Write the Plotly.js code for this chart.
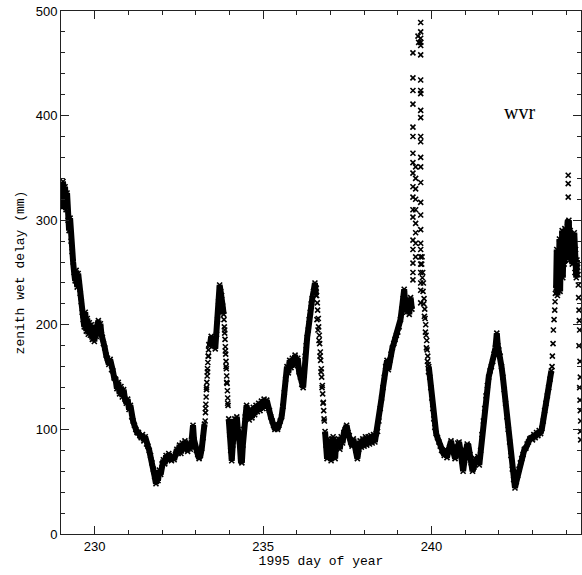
<!DOCTYPE html>
<html>
<head>
<meta charset="utf-8">
<script src="https://cdn.plot.ly/plotly-3.0.1.min.js"></script>
<style>html,body{margin:0;padding:0;background:#fff;}#chart{width:582px;height:575px;}</style>
</head>
<body>
<div id="chart"></div>
<script>
// Dense WVR band (day of year 1995, zenith wet delay mm)
const bandDay = [
229.00,229.03,229.06,229.09,229.12,229.15,229.18,229.21,229.24,229.27,229.30,229.33,229.36,229.39,229.42,229.45,229.48,229.51,229.54,229.57,
229.60,229.63,229.66,229.69,229.72,229.75,229.78,229.81,229.84,229.87,229.90,229.93,229.96,229.99,230.02,230.05,230.08,230.11,230.14,230.17,
230.20,230.23,230.26,230.30,230.34,230.38,230.42,230.46,230.50,230.54,230.58,230.62,230.66,230.70,230.74,230.78,230.82,230.86,230.90,230.94,
230.98,231.02,231.06,231.10,231.14,231.18,231.22,231.26,231.30,231.34,231.38,231.42,231.46,231.50,231.54,231.58,231.62,231.66,231.70,231.74,
231.78,231.82,231.85,231.88,231.92,231.96,232.00,232.04,232.08,232.12,232.16,232.20,232.24,232.28,232.32,232.36,232.40,232.44,232.48,232.52,
232.56,232.60,232.64,232.68,232.72,232.76,232.80,232.84,232.88,232.92,232.95,232.98,233.02,233.06,233.10,233.14,233.18,233.22,233.26,233.29,
233.32,233.35,233.38,233.42,233.46,233.50,233.54,233.58,233.62,233.65,233.68,233.71,233.74,233.77,233.80,233.83,233.86,233.88,233.90,233.92,
233.95,233.98,234.01,234.04,234.07,234.10,234.13,234.16,234.19,234.22,234.25,234.28,234.31,234.34,234.37,234.40,234.43,234.47,234.51,234.55,
234.59,234.63,234.67,234.71,234.75,234.79,234.83,234.87,234.91,234.95,234.99,235.03,235.07,235.11,235.15,235.19,235.23,235.27,235.31,235.35,
235.39,235.43,235.47,235.51,235.55,235.59,235.63,235.67,235.71,235.75,235.79,235.83,235.87,235.91,235.95,235.99,236.03,236.07,236.11,236.15,
236.19,236.22,236.25,236.28,236.31,236.34,236.37,236.40,236.43,236.46,236.50,236.54,236.57,236.60,236.63,236.66,236.69,236.72,236.75,236.78,
236.81,236.84,236.87,236.90,236.93,236.96,236.99,237.02,237.05,237.08,237.11,237.14,237.17,237.20,237.24,237.28,237.32,237.36,237.40,237.44,
237.48,237.52,237.56,237.60,237.64,237.68,237.72,237.76,237.80,237.84,237.88,237.92,237.96,238.00,238.04,238.08,238.12,238.16,238.20,238.24,
238.28,238.32,238.36,238.40,238.44,238.48,238.52,238.56,238.60,238.64,238.68,238.72,238.76,238.80,238.84,238.88,238.92,238.96,239.00,239.04,
239.08,239.12,239.16,239.19,239.22,239.26,239.30,239.34,239.38,239.42,
239.72,239.74,239.76,239.78,239.80,239.83,239.86,239.89,239.92,239.95,239.98,240.01,240.04,240.07,240.10,240.14,240.18,240.22,240.26,240.30,
240.34,240.38,240.42,240.46,240.50,240.54,240.58,240.62,240.66,240.70,240.74,240.78,240.82,240.86,240.90,240.94,240.98,241.02,241.06,241.10,
241.14,241.18,241.22,241.26,241.30,241.34,241.38,241.42,241.46,241.50,241.54,241.58,241.62,241.66,241.70,241.74,241.78,241.82,241.86,241.90,
241.94,241.97,242.00,242.04,242.08,242.12,242.16,242.20,242.24,242.28,242.32,242.36,242.40,242.44,242.48,242.52,242.56,242.60,242.64,242.68,
242.72,242.76,242.80,242.84,242.88,242.92,242.96,243.00,243.04,243.08,243.12,243.16,243.20,243.24,243.28,243.32,243.36,243.40,243.44,243.48,
243.52,243.56,243.70,243.72,243.74,243.76,243.78,243.80,243.82,243.84,243.86,243.88,243.90,243.92,243.94,243.96,243.98,244.00,244.02,244.04,
244.06,244.08,244.10,244.12,244.14,244.16,244.18,244.20,244.22,244.24,244.26,244.28,244.30,244.32
];
const bandZwd = [
330,312,337,316,332,310,326,300,290,302,280,270,260,250,242,252,236,249,240,230,
222,212,205,198,212,194,206,191,202,190,200,186,197,184,195,189,200,204,194,201,
191,188,182,178,171,168,162,167,157,156,149,148,139,145,134,141,131,138,129,125,
129,119,123,112,108,104,100,97,97,94,92,95,89,93,86,84,80,75,68,62,
55,48,56,51,61,57,67,71,67,75,71,77,72,70,75,71,76,81,77,85,
77,87,81,89,82,79,87,81,90,104,90,84,80,76,72,75,82,92,105,120,
140,155,170,180,189,181,187,177,191,205,222,238,232,228,218,210,195,175,160,145,
125,110,95,80,70,85,100,110,105,112,100,95,85,70,68,85,100,112,123,114,
109,119,111,121,114,123,117,125,118,127,120,129,123,128,120,118,112,108,104,100,
102,100,104,108,112,122,135,148,160,154,166,159,168,161,171,164,168,155,150,143,
140,152,170,180,188,195,205,212,220,225,232,240,228,205,195,185,170,155,140,125,
110,98,85,72,91,76,89,70,86,93,78,72,89,83,91,81,93,87,97,100,
104,97,94,88,84,91,85,80,72,81,89,83,91,84,93,85,93,86,94,87,
95,88,96,98,108,120,130,140,150,160,166,157,166,172,178,182,186,190,193,198,
205,215,225,234,220,212,224,210,226,215,
265,250,240,225,215,200,185,170,160,150,140,130,120,110,102,96,92,88,84,80,
79,75,81,73,79,83,89,83,78,72,79,87,88,80,70,60,70,80,86,84,
76,68,60,64,72,68,74,66,80,95,108,120,132,142,150,156,160,165,172,178,
192,180,176,170,160,150,138,125,112,100,88,75,62,52,44,50,56,62,68,72,
76,81,82,86,88,91,92,90,95,92,97,94,99,96,101,108,118,125,132,140,
148,156,235,272,228,262,240,282,232,270,250,290,245,275,258,292,262,285,268,298,
275,300,262,290,270,282,258,280,262,288,250,272,245,262
];
// Stretches where the record is sparse (samples drawn as separate crosses only)
const sparseSpans = [[233.27,233.40],[233.84,233.97],[236.58,236.82],[239.43,239.90],[243.57,243.69]];
// Sparse samples (rapid changes)
const sparseDay = [
233.28,233.29,233.30,233.31,233.32,233.33,233.34,233.35,233.36,233.37,233.38,233.39,
233.84,233.85,233.86,233.87,233.88,233.89,233.90,233.91,233.92,233.93,233.94,233.95,233.96,
236.58,236.59,236.61,236.62,236.64,236.65,236.67,236.68,236.70,236.71,236.73,236.74,236.76,236.77,236.79,236.80,236.82,
239.45,239.45,239.45,239.45,239.45,239.45,239.45,239.45,239.45,239.45,239.45,239.45,239.45,239.45,239.45,239.45,239.45,239.45,
239.53,239.53,239.53,239.53,239.53,239.53,239.53,239.53,239.53,239.60,239.62,
239.68,239.68,239.68,239.68,239.68,239.68,239.68,239.68,239.68,239.68,239.68,239.68,239.68,239.68,239.68,239.68,239.68,239.68,239.68,239.68,239.68,239.68,239.68,239.68,239.68,239.68,239.68,
239.71,239.73,239.75,239.77,239.79,239.81,239.82,239.84,239.85,239.87,239.88,239.90,239.91,
243.58,243.59,243.61,243.62,243.64,243.66,243.67,243.68,
244.06,244.06,244.06,
244.34,244.35,244.36,244.37,244.38,244.39,244.40,244.38,244.41,244.42,244.40,244.41,244.42,244.43,244.42,244.43
];
const sparseZwd = [
108,116,124,131,138,145,151,158,164,170,176,181,
205,198,192,186,179,172,165,158,151,144,137,130,123,
235,228,221,214,206,198,190,182,174,166,158,150,142,134,126,118,108,
460,436,424,411,389,380,364,355,345,332,322,310,303,281,272,259,250,243,
351,340,330,320,310,297,288,278,265,476,470,
489,480,474,470,467,458,434,424,421,405,398,380,375,360,351,336,317,305,291,278,272,265,258,250,240,233,221,
258,245,232,220,208,206,193,190,178,176,165,162,155,
160,170,182,195,205,214,222,230,
343,335,322,
255,248,238,226,214,204,195,180,165,150,140,128,118,108,98,90
];
const xTickVals = [230,235,240];
const yTickVals = [0,100,200,300,400,500];
const label = "wvr";

// continuous band: break the line across sparse spans
const lineX = [], lineY = [];
let prev = null;
for (let i = 0; i < bandDay.length; i++) {
  const d = bandDay[i];
  if (sparseSpans.some(s => d > s[0] && d < s[1])) { prev = null; if (lineY.length && lineY[lineY.length-1] !== null) { lineX.push(d); lineY.push(null); } continue; }
  if (prev !== null && sparseSpans.some(s => s[0] > prev && s[1] < d)) { lineX.push(d); lineY.push(null); }
  lineX.push(d); lineY.push(bandZwd[i]); prev = d;
}

const mk = {symbol:'x-thin-open', size:5, color:'#000', line:{width:1.6, color:'#000'}};
const data = [
  {x:lineX, y:lineY, type:'scatter', mode:'lines', line:{color:'#000', width:6}, connectgaps:false, hoverinfo:'skip'},
  {x:bandDay, y:bandZwd, type:'scatter', mode:'markers', marker:mk, hoverinfo:'skip'},
  {x:sparseDay, y:sparseZwd, type:'scatter', mode:'markers', marker:mk, hoverinfo:'skip'}
];
const axisCommon = {
  showline:true, linecolor:'#222', linewidth:1, mirror:'allticks',
  ticks:'inside', ticklen:8, tickwidth:1, tickcolor:'#222',
  showgrid:false, zeroline:false,
  tickfont:{family:'Liberation Sans, Arial, sans-serif', size:13, color:'#000'}
};
const layout = {
  width:582, height:575,
  margin:{l:61, r:1, t:11, b:41},
  paper_bgcolor:'#fff', plot_bgcolor:'#fff',
  showlegend:false,
  xaxis: Object.assign({}, axisCommon, {
    range:[229, 244.44], tickvals:xTickVals, ticktext:xTickVals.map(String),
    minor:{dtick:1, tick0:229, ticks:'inside', ticklen:4, tickcolor:'#222'},
    title:{text:'1995 day of year', standoff:3, font:{family:'Liberation Mono, Courier New, monospace', size:13, color:'#000'}}
  }),
  yaxis: Object.assign({}, axisCommon, {
    range:[0, 500], tickvals:yTickVals, ticktext:yTickVals.map(String),
    minor:{dtick:20, tick0:0, ticks:'inside', ticklen:4, tickcolor:'#222'},
    title:{text:'zenith wet delay (mm)', standoff:8, font:{family:'Liberation Mono, Courier New, monospace', size:13, color:'#000'}}
  }),
  annotations:[{x:242.6, y:403, xref:'x', yref:'y', text:label, showarrow:false,
    font:{family:'Liberation Serif, Times New Roman, serif', size:20, color:'#000'}}]
};
Plotly.newPlot('chart', data, layout, {staticPlot:true, displayModeBar:false});
</script>
</body>
</html>
